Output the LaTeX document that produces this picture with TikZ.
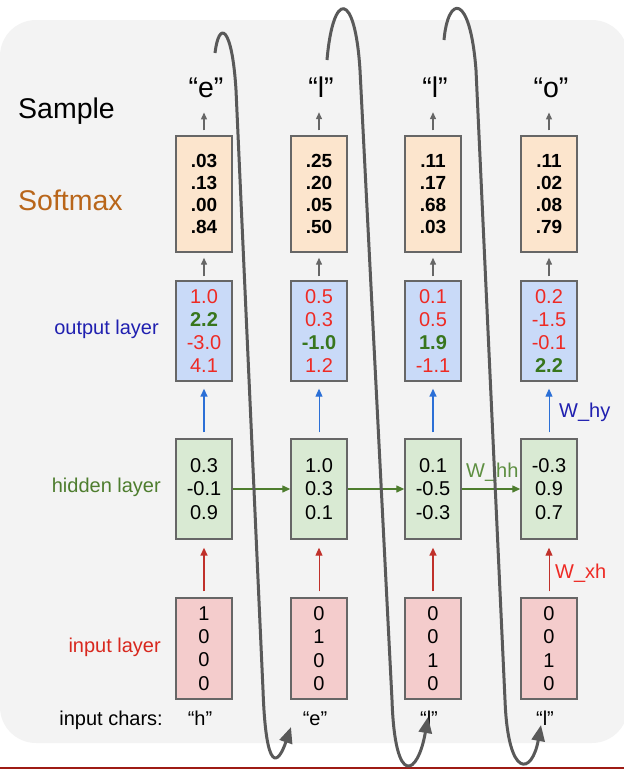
\documentclass[tikz,border=0pt]{standalone}
\usepackage{fontspec}
\setmainfont{Liberation Sans}
\usetikzlibrary{arrows.meta}
\definecolor{bg}{HTML}{F3F3F3}
\definecolor{rule}{HTML}{9E1B14}
\definecolor{boxline}{HTML}{666666}
\definecolor{softfill}{HTML}{FCE5CD}
\definecolor{outfill}{HTML}{C9DAF8}
\definecolor{hidfill}{HTML}{D9EAD3}
\definecolor{infill}{HTML}{F4CCCC}
\definecolor{valred}{HTML}{EE2A24}
\definecolor{valgreen}{HTML}{38761D}
\definecolor{softorange}{HTML}{B9661A}
\definecolor{outblue}{HTML}{2020B0}
\definecolor{hidgreen}{HTML}{4E7D2E}
\definecolor{inred}{HTML}{D8281E}
\definecolor{whhgreen}{HTML}{5E8F42}
\definecolor{arrowgray}{HTML}{666666}
\definecolor{loopgray}{HTML}{595959}
\definecolor{blueline}{HTML}{2B6FD6}
\definecolor{greenline}{HTML}{4E7D2E}
\definecolor{redline}{HTML}{C0302A}

\newcommand{\redval}[1]{\textcolor{valred}{#1}}
\newcommand{\grnval}[1]{\textcolor{valgreen}{\bfseries #1}}

\tikzset{
  cellbox/.style={draw=boxline,line width=1.4pt,minimum width=56pt,inner sep=0pt,
    align=center,font=\fontsize{20}{23.3}\selectfont},
  softbox/.style={cellbox,fill=softfill,minimum height=116pt,font=\bfseries\fontsize{19}{22}\selectfont},
  outbox/.style={cellbox,fill=outfill,minimum height=100pt},
  hidbox/.style={cellbox,fill=hidfill,minimum height=100pt},
  inbox/.style={cellbox,fill=infill,minimum height=101pt},
  tag/.style={inner sep=0pt,font=\fontsize{20}{24}\selectfont},
  bigtag/.style={inner sep=0pt,font=\fontsize{28.5}{32}\selectfont},
  uparrow/.style={-{Triangle[length=7pt,width=6pt]}},
  loopline/.style={loopgray,line width=3pt,-{Triangle[length=16pt,width=13pt]}},
}

\begin{document}
\begin{tikzpicture}[x=1pt,y=-1pt]
  \useasboundingbox (0,0) rectangle (624,769);
  \fill[bg,rounded corners=36pt] (0,20) rectangle (628,743);
  \draw[rule,line width=1.5pt] (0,768) -- (624,768);

  % one column per time step
  \foreach \i/\x/\w/\sm/\ov/\hv/\iv/\ch/\sc in {
    1/204/1.6/{.03\\.13\\.00\\.84}/{\redval{1.0}\\\grnval{2.2}\\\redval{-3.0}\\\redval{4.1}}/{0.3\\-0.1\\0.9}/{1\\0\\0\\0}/h/e,
    2/319/1.0/{.25\\.20\\.05\\.50}/{\redval{0.5}\\\redval{0.3}\\\grnval{-1.0}\\\redval{1.2}}/{1.0\\0.3\\0.1}/{0\\1\\0\\0}/e/l,
    3/433/1.6/{.11\\.17\\.68\\.03}/{\redval{0.1}\\\redval{0.5}\\\grnval{1.9}\\\redval{-1.1}}/{0.1\\-0.5\\-0.3}/{0\\0\\1\\0}/l/l,
    4/549/1.0/{.11\\.02\\.08\\.79}/{\redval{0.2}\\\redval{-1.5}\\\redval{-0.1}\\\grnval{2.2}}/{-0.3\\0.9\\0.7}/{0\\0\\1\\0}/l/o} {
    \node[softbox] (soft\i) at (\x,194) {\sm};
    \node[outbox] (out\i) at (\x,331) {\ov};
    \node[hidbox] (hid\i) at (\x,489) {\hv};
    \node[inbox] (in\i) at (\x,648.5) {\iv};
    \node[bigtag,anchor=base] (samp\i) at (\x+2,97) {“\sc”};
    \node[tag,anchor=base] (char\i) at (\x-4,725) {“\ch”};
    \draw[arrowgray,line width=1.3pt,uparrow,shorten <=5pt,shorten >=15pt]
      (soft\i.north) -- (soft\i.north |- samp\i.south);
    \draw[arrowgray,line width=1.3pt,uparrow,shorten <=4pt,shorten >=5pt]
      (out\i.north) -- (soft\i.south);
    \draw[blueline,line width=\w pt,-{Triangle[length=8pt,width=7pt]},shorten <=6pt,shorten >=7pt]
      (hid\i.north) -- (out\i.south);
    \draw[redline,line width=\w pt,-{Triangle[length=8pt,width=7pt]},shorten <=6pt,shorten >=8pt]
      (in\i.north) -- (hid\i.south);
  }
  \foreach \a/\b in {1/2,2/3,3/4}
    \draw[greenline,line width=1.3pt,-{Triangle[length=8pt,width=7pt]}] (hid\a.east) -- (hid\b.west);

  % row labels
  \node[bigtag,anchor=base west] (samplelbl) at (18,118) {Sample};
  \node[bigtag,anchor=base west,text=softorange] (softlbl) at (18,210) {Softmax};
  \node[tag,anchor=east,text=outblue] (outlbl) at (159,329) {output layer};
  \node[tag,anchor=east,text=hidgreen] (hidlbl) at (161,487) {hidden layer};
  \node[tag,anchor=east,text=inred] (inlbl) at (161,647) {input layer};
  \node[tag,anchor=base east] (charlbl) at (163,725) {input chars:};

  % weight labels
  \node[tag,anchor=west,text=outblue] (why) at (559,412) {W\_hy};
  \node[tag,anchor=west,text=whhgreen] (whh) at (466,472) {W\_hh};
  \node[tag,anchor=west,text=valred] (wxh) at (555,573) {W\_xh};

  % feed sampled char back as next input
  \coordinate (top1) at (215,53);
  \coordinate (tip1) at (291,727);
  \coordinate (top2) at (327,60);
  \coordinate (tip2) at (428,717);
  \coordinate (top3) at (444,40);
  \coordinate (tip3) at (541,725);
  \draw[loopline] (top1) .. controls (219,20) and (232,25) .. (236,90) -- (263,690)
    .. controls (266,775) and (278,765) .. (tip1);
  \draw[loopline] (top2) .. controls (333,-10) and (355,-10) .. (360,70) -- (392,700)
    .. controls (395,790) and (418,775) .. (tip2);
  \draw[loopline] (top3) .. controls (448,-5) and (470,-8) .. (476,70) -- (505,700)
    .. controls (508,780) and (532,775) .. (tip3);
\end{tikzpicture}
\end{document}
